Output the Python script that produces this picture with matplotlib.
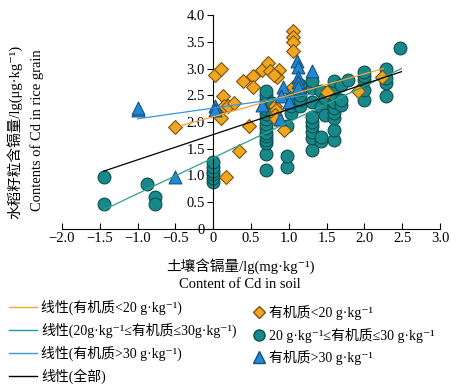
import numpy as np
import matplotlib
matplotlib.use('Agg')
import matplotlib.pyplot as plt
from matplotlib.lines import Line2D
from matplotlib.ticker import FuncFormatter

plt.rcParams['font.family'] = ['Liberation Serif', 'Noto Sans CJK SC', 'DejaVu Serif']
plt.rcParams['axes.unicode_minus'] = False

# 有机质<20 g/kg (diamonds)
low_x = [-0.5, 0.02, 0.10, 0.13, 0.10, 0.14, 0.20, 0.27, 0.17, 0.34, 0.40, 0.53, 0.53, 0.48,
         0.65, 0.73, 0.75, 0.87, 0.84, 0.81, 0.82, 0.83, 0.82, 0.83, 0.94, 1.05, 1.06, 1.06,
         1.05, 1.05, 1.50, 1.92, 2.23]
low_y = [1.90, 2.88, 3.00, 2.48, 2.07, 2.29, 2.30, 2.36, 0.98, 1.46, 2.77, 2.86, 2.65, 1.93,
         2.97, 3.11, 2.95, 2.97, 2.84, 2.88, 2.29, 2.23, 2.13, 2.06, 1.85, 3.70, 3.58, 3.50,
         3.32, 2.65, 2.56, 2.58, 2.84]

# 20 <= 有机质 <= 30 g/kg (circles)
mid_x = ([-1.45] * 2 + [-0.88] + [-0.77] * 2 + [0.0] * 6 + [0.7] * 15 + [0.78] * 2 +
         [0.98] * 3 + [1.03] * 3 + [1.15] * 5 + [1.31] * 9 + [1.42] * 4 + [1.48] * 2 +
         [1.6] * 9 + [1.69] * 3 + [1.78] + [1.95] + [2.0] * 5 + [2.29] * 4 + [2.47])
mid_y = [0.97, 0.47,
         0.85,
         0.60, 0.47,
         0.88, 0.95, 1.02, 1.08, 1.16, 1.25,
         1.10, 1.41, 1.60, 1.67, 1.73, 1.80, 1.88, 1.97, 2.06, 2.15, 2.25, 2.34, 2.43, 2.50, 2.58,
         2.20, 2.35,
         1.16, 1.37, 1.93,
         2.16, 2.30, 2.45,
         2.30, 2.41, 2.50, 2.60, 2.70,
         1.48, 1.70, 1.82, 1.92, 2.00, 2.10, 2.38, 2.63, 2.76,
         1.65, 1.72, 2.28, 2.58,
         2.13, 2.44,
         1.67, 1.85, 2.07, 2.16, 2.26, 2.38, 2.50, 2.63, 2.76,
         2.32, 2.41, 2.69,
         2.79,
         2.60,
         2.41, 2.60, 2.79, 2.86, 2.94,
         2.48, 2.72, 2.82, 2.99,
         3.38]

# 有机质>30 g/kg (triangles)
high_x = [-1.0, -1.0, -0.5, 0.02, 0.02, 0.65, 0.92, 0.90, 0.89, 1.0, 1.11, 1.12, 1.12, 1.12, 1.12, 1.31]
high_y = [2.22, 2.27, 0.97, 2.30, 2.22, 2.32, 2.66, 2.48, 2.06, 2.38, 3.14, 3.03, 2.85, 2.75, 2.65, 2.96]

# linear fits: intercept, slope, x range
fit_low = (2.10, 0.40, -0.5, 2.25)
fit_mid = (1.33, 0.67, -1.45, 2.49)
fit_high = (2.26, 0.20, -1.0, 1.32)
fit_all = (1.765, 0.472, -1.45, 2.49)

c_low, c_mid, c_high = '#F0A61E', '#17898A', '#2089D6'
l_low, l_mid, l_high = '#F2A43A', '#2FA08A', '#3398DC'

fig = plt.figure(figsize=(4.63, 3.87), dpi=100)
ax = fig.add_axes([62 / 463, 1 - 229 / 387, 378 / 463, 214 / 387])

ax.scatter(mid_x, mid_y, s=85, marker='o', facecolor=c_mid, edgecolor='#0C4F50', linewidth=0.8, zorder=2)
ax.scatter(low_x, low_y, s=50, marker='D', facecolor=c_low, edgecolor='#7A5410', linewidth=0.8, zorder=3)
ax.scatter(high_x, high_y, s=85, marker='^', facecolor=c_high, edgecolor='#1B4E78', linewidth=0.8, zorder=4)

for (b, k, x0, x1), col in [(fit_low, l_low), (fit_mid, l_mid), (fit_high, l_high), (fit_all, 'black')]:
    xs = np.array([x0, x1])
    ax.plot(xs, b + k * xs, color=col, lw=0.9, zorder=5)

ax.set_xlim(-2, 3)
ax.set_ylim(0, 4)
ax.spines['left'].set_position(('data', 0))
ax.spines['top'].set_visible(False)
ax.spines['right'].set_visible(False)
ax.set_xticks(np.arange(-2, 3.01, 0.5))
ax.set_yticks(np.arange(0, 4.01, 0.5))
fmt = FuncFormatter(lambda v, p: '0' if abs(v) < 1e-9 else ('%.1f' % v).replace('-', '\u2212'))
ax.xaxis.set_major_formatter(fmt)
ax.yaxis.set_major_formatter(fmt)
ax.tick_params(axis='x', direction='in', length=4, labelsize=10.5, pad=2)
ax.tick_params(axis='y', direction='out', length=4, labelsize=10.5, pad=2)

fig.text(240 / 463, 1 - 266 / 387, '土壤含镉量/lg(mg·kg⁻¹)', ha='center', va='center', fontsize=10.5)
fig.text(240 / 463, 1 - 285 / 387, 'Content of Cd in soil', ha='center', va='center', fontsize=10.5)
fig.text(15 / 463, 1 - 132 / 387, '水稻籽粒含镉量/lg(μg·kg⁻¹)', rotation=90, ha='center', va='center', fontsize=10.5)
fig.text(37 / 463, 1 - 130 / 387, 'Contents of Cd in rice grain', rotation=90, ha='center', va='center', fontsize=10.5)

line_handles = [Line2D([], [], color=l_low, lw=1), Line2D([], [], color='#1A9A9A', lw=1),
                Line2D([], [], color=l_high, lw=1), Line2D([], [], color='black', lw=1)]
line_labels = ['线性(有机质<20 g·kg⁻¹)', '线性(20g·kg⁻¹≤有机质≤30g·kg⁻¹)',
               '线性(有机质>30 g·kg⁻¹)', '线性(全部)']
leg1 = fig.legend(line_handles, line_labels, loc='upper left', bbox_to_anchor=(0.02, 1 - 300 / 387),
                  frameon=False, fontsize=10, handlelength=2.0, handletextpad=0.3, labelspacing=0.55,
                  borderaxespad=0, borderpad=0)

mk_handles = [Line2D([], [], ls='', marker='D', ms=6, mfc=c_low, mec='#7A5410'),
              Line2D([], [], ls='', marker='o', ms=8, mfc=c_mid, mec='#0C4F50'),
              Line2D([], [], ls='', marker='^', ms=8, mfc=c_high, mec='#1B4E78')]
mk_labels = ['有机质<20 g·kg⁻¹', '20 g·kg⁻¹≤有机质≤30 g·kg⁻¹', '有机质>30 g·kg⁻¹']
leg2 = fig.legend(mk_handles, mk_labels, loc='upper left', bbox_to_anchor=(252 / 463, 1 - 305 / 387),
                  frameon=False, fontsize=10, handlelength=1.0, handletextpad=0.2, labelspacing=0.55,
                  borderaxespad=0, borderpad=0)

fig.savefig('out.png', dpi=100)
